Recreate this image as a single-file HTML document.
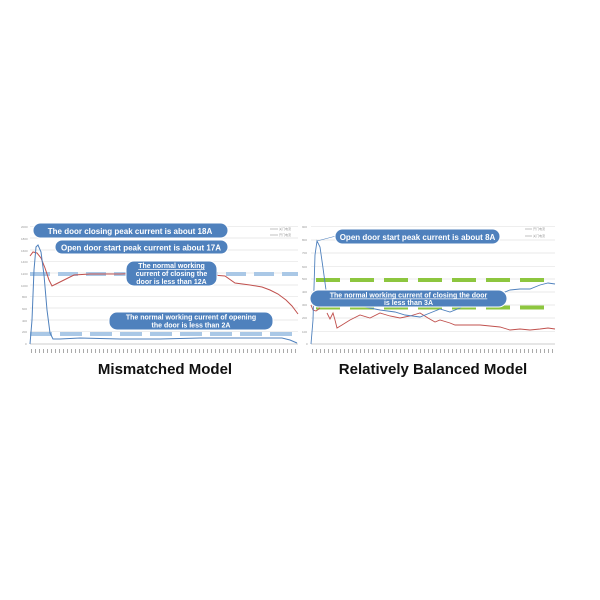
<!DOCTYPE html>
<html><head><meta charset="utf-8"><style>
html,body{margin:0;padding:0;background:#fff;width:600px;height:600px;overflow:hidden}
svg{display:block}
text{font-family:"Liberation Sans",sans-serif}
</style></head><body>
<svg width="600" height="600" viewBox="0 0 600 600" xmlns="http://www.w3.org/2000/svg">
<rect width="600" height="600" fill="#fff"/>
<!-- LEFT CHART -->
<g stroke="#e3e3e3" stroke-width="0.7">
<line x1="30" y1="226.7" x2="298" y2="226.7"/><line x1="30" y1="238" x2="298" y2="238"/>
<line x1="30" y1="250" x2="298" y2="250"/><line x1="30" y1="261.7" x2="298" y2="261.7"/>
<line x1="30" y1="273" x2="298" y2="273"/><line x1="30" y1="285" x2="298" y2="285"/>
<line x1="30" y1="296.7" x2="298" y2="296.7"/><line x1="30" y1="308" x2="298" y2="308"/>
<line x1="30" y1="320" x2="298" y2="320"/><line x1="30" y1="331.7" x2="298" y2="331.7"/>
</g>
<line x1="30" y1="344" x2="298" y2="344" stroke="#bbb" stroke-width="0.8"/>
<g fill="#999" font-size="3">
<text x="21" y="228">2000</text><text x="21" y="240">1800</text><text x="21" y="252">1600</text><text x="21" y="263">1400</text><text x="21" y="275">1200</text><text x="21" y="287">1000</text><text x="22" y="298">800</text><text x="22" y="310">600</text><text x="22" y="322">400</text><text x="22" y="333">200</text><text x="25" y="345">0</text>
</g>
<line x1="31" y1="351" x2="298" y2="351" stroke="#aaa" stroke-width="4" stroke-dasharray="1 3"/>
<g stroke="#aac8e6" stroke-width="4">
<line x1="30" y1="274" x2="298" y2="274" stroke-dasharray="20 8"/>
<line x1="30" y1="334" x2="298" y2="334" stroke-dasharray="22 8"/>
</g>
<polyline fill="none" stroke="#c0504d" stroke-width="1" points="30,256 33,252 37,253 41,258 45,268 49,280 52,286 56,284 62,281 68,278 74,275 90,274 120,274 150,273 200,274 225,276 235,283 250,285 262,287 270,290 278,294 286,300 292,306 298,314"/>
<polyline fill="none" stroke="#4f81bd" stroke-width="1" points="30,344 32,320 34,270 36,247 38,245 41,252 44,275 47,310 50,333 53,339 60,339 80,338 120,339 160,339 200,338 240,338 270,338 282,338 290,340 297,343"/>
<g stroke="#999" stroke-width="0.6"><line x1="270" y1="229" x2="278" y2="229"/><line x1="270" y1="235" x2="278" y2="235"/></g>
<g fill="#999" font-size="3"><text x="279" y="230">关门电流</text><text x="279" y="236">开门电流</text></g>
<g fill="#4f81bd" stroke="#fff" stroke-width="1">
<rect x="33" y="223" width="195" height="15" rx="7.5"/>
<rect x="55" y="240" width="173" height="14" rx="7"/>
<rect x="126" y="261" width="91" height="25" rx="8"/>
<rect x="109" y="312" width="164" height="18" rx="8"/>
</g>
<g fill="#fff" font-weight="bold" text-anchor="middle">
<text x="130" y="234" font-size="8">The door closing peak current is about 18A</text>
<text x="141" y="250.5" font-size="8">Open door start peak current is about 17A</text>
<text x="171.5" y="268" font-size="7" text-decoration="underline">The normal working</text>
<text x="171.5" y="276" font-size="7">current of closing the</text>
<text x="171.5" y="284" font-size="7">door is less than 12A</text>
<text x="191" y="319.5" font-size="7">The normal working current of opening</text>
<text x="191" y="327.5" font-size="7">the door is less than 2A</text>
</g>
<text x="165" y="374" font-size="15" font-weight="bold" text-anchor="middle" fill="#111">Mismatched Model</text>

<!-- RIGHT CHART -->
<g stroke="#e3e3e3" stroke-width="0.7">
<line x1="311" y1="226.7" x2="555" y2="226.7"/><line x1="311" y1="240" x2="555" y2="240"/>
<line x1="311" y1="253" x2="555" y2="253"/><line x1="311" y1="266.7" x2="555" y2="266.7"/>
<line x1="311" y1="279" x2="555" y2="279"/><line x1="311" y1="292" x2="555" y2="292"/>
<line x1="311" y1="305" x2="555" y2="305"/><line x1="311" y1="318" x2="555" y2="318"/>
<line x1="311" y1="331.7" x2="555" y2="331.7"/>
</g>
<line x1="311" y1="344" x2="555" y2="344" stroke="#bbb" stroke-width="0.8"/>
<g fill="#999" font-size="3">
<text x="302" y="228">900</text><text x="302" y="241">800</text><text x="302" y="254">700</text><text x="302" y="268">600</text><text x="302" y="280">500</text><text x="302" y="293">400</text><text x="302" y="306">300</text><text x="302" y="319">200</text><text x="302" y="333">100</text><text x="306" y="345">0</text>
</g>
<line x1="312" y1="351" x2="555" y2="351" stroke="#aaa" stroke-width="4" stroke-dasharray="1 3"/>
<g stroke="#8dc63f" stroke-width="4" stroke-dasharray="24 10">
<line x1="316" y1="280" x2="548" y2="280"/>
<line x1="316" y1="307.5" x2="548" y2="307.5"/>
</g>
<polyline fill="none" stroke="#c0504d" stroke-width="0.9" points="311,305 313,310 316,311 319,309 321,305"/>
<polyline fill="none" stroke="#c0504d" stroke-width="0.9" points="327,313 330,319 333,313 335,320 337,328 342,325 350,320 360,315 370,318 380,313 390,316 400,318 410,316 420,313 428,318 435,322 440,320 450,323 455,325 470,325 480,325 490,326 500,327 510,330 520,329 530,330 540,329 548,328 555,329"/>
<polyline fill="none" stroke="#4f81bd" stroke-width="0.9" points="311,344 313,320 315,255 317,241 320,247 323,268 326,290 330,300 340,303 350,305 365,307 380,310 395,312 405,315 420,317 430,313 440,309 450,312 460,308 470,301 480,302 490,298 500,294 510,290 520,289 530,289 540,285 548,283 555,284"/>
<g stroke="#999" stroke-width="0.6"><line x1="525" y1="229" x2="532" y2="229"/><line x1="525" y1="236" x2="532" y2="236"/></g>
<g fill="#999" font-size="3"><text x="533" y="230">开门电流</text><text x="533" y="237">关门电流</text></g>
<line x1="317" y1="241" x2="336" y2="236" stroke="#4f81bd" stroke-width="0.6"/>
<g fill="#4f81bd" stroke="#fff" stroke-width="1">
<rect x="335" y="229" width="165" height="15" rx="7.5"/>
<rect x="310" y="290" width="197" height="17" rx="8.5"/>
</g>
<g fill="#fff" font-weight="bold" text-anchor="middle">
<text x="417.5" y="240" font-size="8">Open door start peak current is about 8A</text>
<text x="408.5" y="297.5" font-size="7" text-decoration="underline">The normal working current of closing the door</text>
<text x="408.5" y="305" font-size="7">is less than 3A</text>
</g>
<text x="433" y="374" font-size="15" font-weight="bold" text-anchor="middle" fill="#111">Relatively Balanced Model</text>
</svg>
</body></html>
